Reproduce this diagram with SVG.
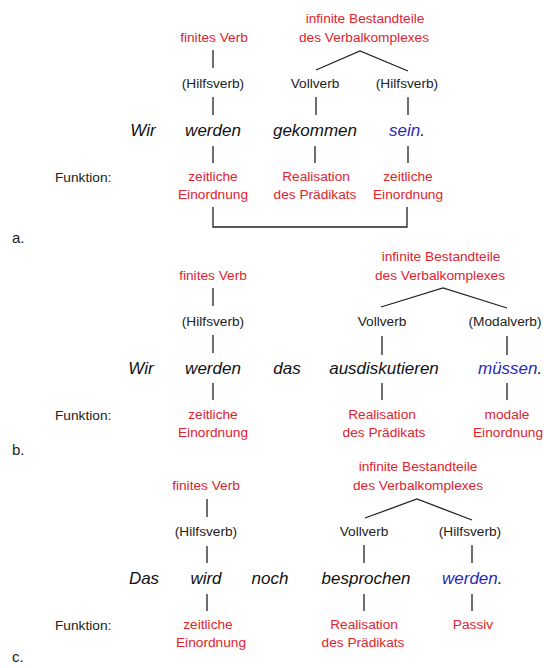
<svg xmlns="http://www.w3.org/2000/svg" width="544" height="668" viewBox="0 0 544 668">
<style>
text{font-family:"Liberation Sans",Arial,sans-serif;}
.lab{font-size:13.7px;fill:#222;text-anchor:middle;}
.red{font-size:13.7px;fill:#e0232f;text-anchor:middle;}
.w{font-size:17px;font-style:italic;fill:#111;text-anchor:middle;}
.blue{fill:#2a2ab4;}
.fn{font-size:13.7px;fill:#222;}
.pl{font-size:15px;fill:#222;}
.ln{stroke:#222;stroke-width:1.3;fill:none;}
</style>
<rect width="544" height="668" fill="#fff"/>

<!-- Panel a -->
<g id="a-infinit"><text class="red" x="365" y="23">infinite Bestandteile</text><text class="red" x="364" y="42">des Verbalkomplexes</text></g>
<g id="a-finit"><text class="red" x="214" y="42">finites Verb</text></g>
<g id="a-hilfs1"><text class="lab" x="213" y="88">(Hilfsverb)</text></g>
<g id="a-voll"><text class="lab" x="315" y="88">Vollverb</text></g>
<g id="a-hilfs2"><text class="lab" x="407" y="88">(Hilfsverb)</text></g>
<g id="a-wir"><text class="w" x="143" y="136">Wir</text></g>
<g id="a-werden"><text class="w" x="213" y="136">werden</text></g>
<g id="a-gekommen"><text class="w" x="315" y="136">gekommen</text></g>
<g id="a-sein"><text class="w" x="389" y="136" style="text-anchor:start"><tspan class="blue">sein</tspan>.</text></g>
<g id="a-funktion"><text class="fn" x="55" y="182">Funktion:</text></g>
<g id="a-f1"><text class="red" x="213" y="181">zeitliche</text><text class="red" x="213" y="199">Einordnung</text></g>
<g id="a-f2"><text class="red" x="316" y="181">Realisation</text><text class="red" x="315" y="199">des Prädikats</text></g>
<g id="a-f3"><text class="red" x="408" y="181">zeitliche</text><text class="red" x="408" y="199">Einordnung</text></g>
<g id="a-label"><text class="pl" x="12" y="243">a.</text></g>

<!-- Panel b -->
<g id="b-infinit"><text class="red" x="441" y="261">infinite Bestandteile</text><text class="red" x="440" y="280">des Verbalkomplexes</text></g>
<g id="b-finit"><text class="red" x="213" y="280">finites Verb</text></g>
<g id="b-hilfs"><text class="lab" x="213" y="326">(Hilfsverb)</text></g>
<g id="b-voll"><text class="lab" x="382" y="326">Vollverb</text></g>
<g id="b-modal"><text class="lab" x="505" y="326">(Modalverb)</text></g>
<g id="b-wir"><text class="w" x="141" y="374">Wir</text></g>
<g id="b-werden"><text class="w" x="213" y="374">werden</text></g>
<g id="b-das"><text class="w" x="287" y="374">das</text></g>
<g id="b-ausdiskutieren"><text class="w" x="384" y="374">ausdiskutieren</text></g>
<g id="b-muessen"><text class="w" x="478" y="374" style="text-anchor:start"><tspan class="blue">müssen</tspan>.</text></g>
<g id="b-funktion"><text class="fn" x="55" y="420">Funktion:</text></g>
<g id="b-f1"><text class="red" x="213" y="419">zeitliche</text><text class="red" x="213" y="437">Einordnung</text></g>
<g id="b-f2"><text class="red" x="382" y="419">Realisation</text><text class="red" x="384" y="437">des Prädikats</text></g>
<g id="b-f3"><text class="red" x="507" y="419">modale</text><text class="red" x="508" y="437">Einordnung</text></g>
<g id="b-label"><text class="pl" x="12" y="455">b.</text></g>

<!-- Panel c -->
<g id="c-infinit"><text class="red" x="418" y="471">infinite Bestandteile</text><text class="red" x="418" y="490">des Verbalkomplexes</text></g>
<g id="c-finit"><text class="red" x="206" y="490">finites Verb</text></g>
<g id="c-hilfs1"><text class="lab" x="206" y="536">(Hilfsverb)</text></g>
<g id="c-voll"><text class="lab" x="364" y="536">Vollverb</text></g>
<g id="c-hilfs2"><text class="lab" x="470" y="536">(Hilfsverb)</text></g>
<g id="c-das"><text class="w" x="144" y="584">Das</text></g>
<g id="c-wird"><text class="w" x="206" y="584">wird</text></g>
<g id="c-noch"><text class="w" x="270" y="584">noch</text></g>
<g id="c-besprochen"><text class="w" x="366" y="584">besprochen</text></g>
<g id="c-werden"><text class="w" x="442" y="584" style="text-anchor:start"><tspan class="blue">werden</tspan>.</text></g>
<g id="c-funktion"><text class="fn" x="55" y="630">Funktion:</text></g>
<g id="c-f1"><text class="red" x="208" y="629">zeitliche</text><text class="red" x="211" y="647">Einordnung</text></g>
<g id="c-f2"><text class="red" x="364" y="629">Realisation</text><text class="red" x="363" y="647">des Prädikats</text></g>
<g id="c-f3"><text class="red" x="473" y="629">Passiv</text></g>
<g id="c-label"><text class="pl" x="12" y="662">c.</text></g>

<g id="connectors" class="ln">
<!-- a -->
<path d="M213 50V68M213 97V115M213 146V163"/>
<path d="M316 70L360 51L408 71"/>
<path d="M316 97V115M408 97V115M315 146V163M408 146V163"/>
<path d="M213 207V227H407V207"/>
<!-- b -->
<path d="M213 288V306M213 335V353M213 383V400"/>
<path d="M381 307L443 288L507 308"/>
<path d="M382 336V355M507 336V355M382 383V400M507 383V400"/>
<!-- c -->
<path d="M207 499V517M207 546V563M207 594V611"/>
<path d="M365 518L417 499L472 520"/>
<path d="M364 545V563M472 545V563M364 594V611M472 594V611"/>
</g>
</svg>
